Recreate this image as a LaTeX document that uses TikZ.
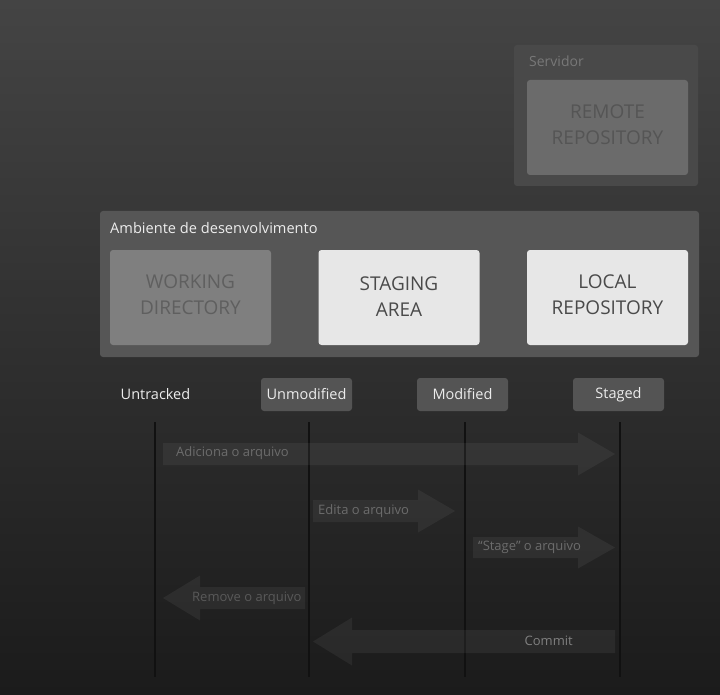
\documentclass[tikz,border=0pt]{standalone}
\usepackage{fontspec}
\setmainfont{Open Sans}
\usetikzlibrary{calc}
\definecolor{bgtop}{HTML}{444444}
\definecolor{bgbot}{HTML}{1B1B1B}
\definecolor{srvpanel}{HTML}{494949}
\definecolor{remfill}{HTML}{6B6B6B}
\definecolor{remtext}{HTML}{555555}
\definecolor{envpanel}{HTML}{565656}
\definecolor{wdfill}{HTML}{7F7F7F}
\definecolor{wdtext}{HTML}{5F5F5F}
\definecolor{litefill}{HTML}{E7E7E7}
\definecolor{litetext}{HTML}{4A4A4A}
\definecolor{statfill}{HTML}{545454}
\definecolor{stattext}{HTML}{ECECEC}
\definecolor{vline}{HTML}{111111}
\definecolor{arrtext}{HTML}{6C6C6C}
\tikzset{
  panel/.style={rounded corners=3pt, inner sep=0pt},
  bigbox/.style={rounded corners=3pt, minimum width=161pt, minimum height=95pt, align=center, inner sep=0pt, font=\fontsize{19}{26}\selectfont},
  boxtext/.style={align=center, inner sep=0pt, font=\fontsize{19}{26}\selectfont},
  statbox/.style={rounded corners=3pt, fill=statfill, text=stattext, minimum width=91pt, minimum height=33pt, inner sep=0pt, font=\fontsize{14.5}{16}\selectfont},
  seqline/.style={draw=vline, line width=2.4pt},
  blockarrow/.style={fill=white, fill opacity=0.055},
  arrlabel/.style={text=arrtext, font=\fontsize{13}{15}\selectfont, inner sep=0pt, anchor=west},
}
\begin{document}
\begin{tikzpicture}[x=1pt,y=-1pt]
\shade[top color=bgtop, bottom color=bgbot] (0,0) rectangle (720,695);
\useasboundingbox (0,0) rectangle (720,695);
% Servidor panel
\node[panel, fill=srvpanel, minimum width=184pt, minimum height=141pt] (srv) at (606,115.5) {};
\node[anchor=west, font=\fontsize{14}{16}\selectfont, inner sep=0pt, text=white!47!black] (srvlbl) at (529,61) {Servidor};
\node[bigbox, fill=remfill] (remote) at (607.5,127.5) {};
\node[boxtext, text=remtext] (remotet) at (607.5,124.5) {REMOTE\\REPOSITORY};
% Ambiente panel
\node[panel, fill=envpanel, minimum width=599pt, minimum height=146pt] (env) at (399.5,284) {};
\node[anchor=west, text=white!93!black, font=\fontsize{14.6}{16}\selectfont, inner sep=0pt] (envlbl) at (110,228) {Ambiente de desenvolvimento};
\node[bigbox, fill=wdfill] (wd) at (190.5,297.5) {};
\node[boxtext, text=wdtext] (wdt) at (190.5,294.5) {WORKING\\DIRECTORY};
\node[bigbox, fill=litefill] (stage) at (399,297.5) {};
\node[boxtext, text=litetext] (staget) at (399,296.5) {STAGING\\AREA};
\node[bigbox, fill=litefill] (local) at (607.5,297.5) {};
\node[boxtext, text=litetext] (localt) at (607.5,294.5) {LOCAL\\REPOSITORY};
% status labels
\node[text=stattext, font=\fontsize{14.5}{16}\selectfont, inner sep=0pt] (untr) at (155.5,394) {Untracked};
\node[statbox] (unmod) at (306.5,394.5) {Unmodified};
\node[statbox] (mod) at (462.5,394.5) {Modified};
\node[statbox] (stg) at (618.5,394.5) {Staged};
% lifelines
\coordinate (l1t) at (155,422); \coordinate (l1b) at (155,677);
\coordinate (l2t) at (309,422); \coordinate (l2b) at (309,677);
\coordinate (l3t) at (465,422); \coordinate (l3b) at (465,677);
\coordinate (l4t) at (620,422); \coordinate (l4b) at (620,677);
\draw[seqline] (l1t) -- (l1b);
\draw[seqline] (l2t) -- (l2b);
\draw[seqline] (l3t) -- (l3b);
\draw[seqline] (l4t) -- (l4b);
% block arrows (rightwards): start, tip
\coordinate (a1s) at (163,454); \coordinate (a1e) at (615,454);
\coordinate (a2s) at (313,511); \coordinate (a2e) at (455,511);
\coordinate (a3s) at (473,547.5); \coordinate (a3e) at (615,547.5);
\fill[blockarrow] ($(a1s)+(0,-11)$) -- ($(a1e)+(-37,-11)$) -- ($(a1e)+(-37,-21.5)$) -- (a1e) -- ($(a1e)+(-37,21.5)$) -- ($(a1e)+(-37,11)$) -- ($(a1s)+(0,11)$) -- cycle;
\fill[blockarrow] ($(a2s)+(0,-11)$) -- ($(a2e)+(-37,-11)$) -- ($(a2e)+(-37,-21.5)$) -- (a2e) -- ($(a2e)+(-37,21.5)$) -- ($(a2e)+(-37,11)$) -- ($(a2s)+(0,11)$) -- cycle;
\fill[blockarrow] ($(a3s)+(0,-10.5)$) -- ($(a3e)+(-37,-10.5)$) -- ($(a3e)+(-37,-21)$) -- (a3e) -- ($(a3e)+(-37,21)$) -- ($(a3e)+(-37,10.5)$) -- ($(a3s)+(0,10.5)$) -- cycle;
% leftwards: start (right), tip (left)
\coordinate (a4s) at (305,598); \coordinate (a4e) at (163,598);
\coordinate (a5s) at (615,641.5); \coordinate (a5e) at (313,641.5);
\fill[blockarrow] ($(a4s)+(0,-11)$) -- ($(a4e)+(37,-11)$) -- ($(a4e)+(37,-22.5)$) -- (a4e) -- ($(a4e)+(37,22.5)$) -- ($(a4e)+(37,11)$) -- ($(a4s)+(0,11)$) -- cycle;
\fill[blockarrow] ($(a5s)+(0,-11.5)$) -- ($(a5e)+(39,-11.5)$) -- ($(a5e)+(39,-24)$) -- (a5e) -- ($(a5e)+(39,24)$) -- ($(a5e)+(39,11.5)$) -- ($(a5s)+(0,11.5)$) -- cycle;
% arrow labels
\node[arrlabel] (t1) at (176,453) {Adiciona o arquivo};
\node[arrlabel] (t2) at (318,511) {Edita o arquivo};
\node[arrlabel] (t3) at (478,547.5) {“Stage” o arquivo};
\node[arrlabel, text=white!35!black] (t4) at (192,598) {Remove o arquivo};
\node[arrlabel, anchor=east, text=white!50!black] (t5) at (573,641) {Commit};
\end{tikzpicture}
\end{document}
